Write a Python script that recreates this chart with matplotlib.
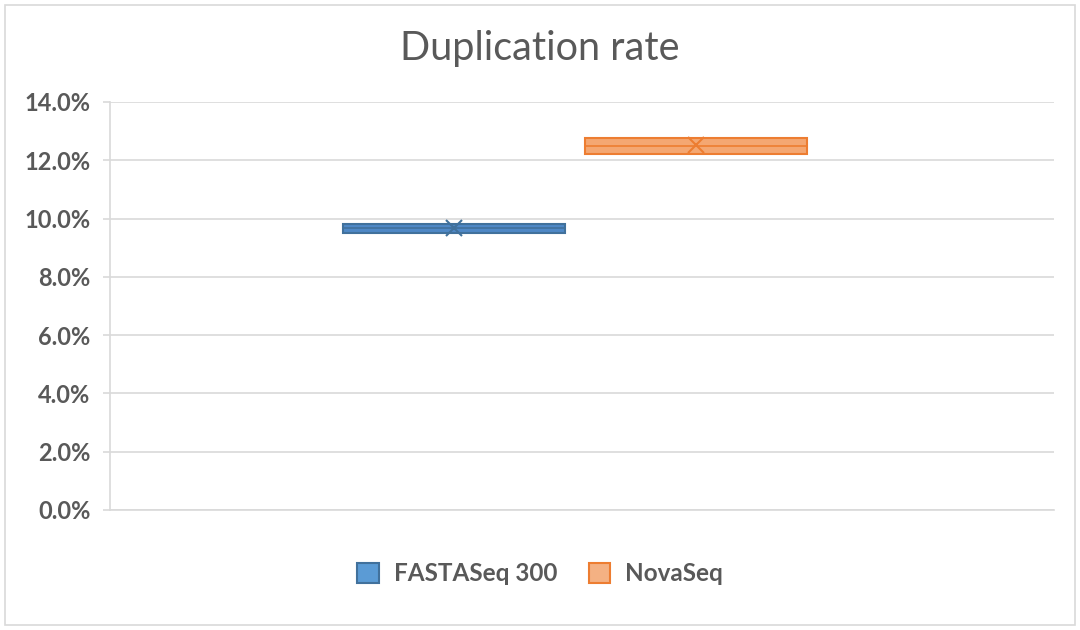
import matplotlib.pyplot as plt
from matplotlib.patches import Rectangle
from matplotlib.ticker import FuncFormatter

# valori (in %)
serie = ['FASTASeq 300', 'NovaSeq']
q1 = [9.51, 12.22]
mediana = [9.66, 12.50]
q3 = [9.81, 12.76]
media = [9.68, 12.52]
tick_y = [0, 2, 4, 6, 8, 10, 12, 14]

riempimento = ['#4f88c6', '#f4a772']
bordo = ['#41719c', '#ed7d31']
legenda_fill = ['#5b9bd5', '#f4b183']

plt.rcParams['font.family'] = ['Lato', 'DejaVu Sans']

fig = plt.figure(figsize=(10.8, 6.3), dpi=100)
fig.patches.append(Rectangle((0.005, 0.008), 0.99, 0.984, transform=fig.transFigure,
                             fill=False, edgecolor='#d9d9d9', linewidth=1.2))
ax = fig.add_axes([0.1019, 0.1905, 0.8741, 0.6476])

stats = []
for i in range(len(serie)):
    stats.append({'label': serie[i], 'q1': q1[i], 'med': mediana[i], 'q3': q3[i],
                  'mean': media[i], 'whislo': q1[i], 'whishi': q3[i], 'fliers': []})

for i, s in enumerate(stats):
    ax.bxp([s], positions=[i + 1], widths=0.917, patch_artist=True, showmeans=True,
           showcaps=False,
           boxprops=dict(facecolor=riempimento[i], edgecolor=bordo[i], linewidth=1.5),
           medianprops=dict(color=bordo[i], linewidth=1.2),
           whiskerprops=dict(color=bordo[i], linewidth=0),
           meanprops=dict(marker='x', markeredgecolor=bordo[i], markersize=11,
                          markeredgewidth=1.5),
           zorder=3)

ax.set_xlim(-0.421, 3.479)
ax.set_ylim(0, 14)
ax.set_yticks(tick_y)
ax.yaxis.set_major_formatter(FuncFormatter(lambda v, p: f'{v:.1f}%'))
ax.set_xticks([])
ax.grid(axis='y', color='#d9d9d9', linewidth=1.2, zorder=0)
ax.set_axisbelow(True)
for lato in ['top', 'right']:
    ax.spines[lato].set_visible(False)
ax.spines['left'].set_color('#d9d9d9')
ax.spines['bottom'].set_color('#d9d9d9')
ax.spines['left'].set_linewidth(1.2)
ax.spines['bottom'].set_linewidth(1.2)
ax.tick_params(axis='y', length=5, color='#d9d9d9', width=1.2, pad=9,
               labelsize=17, labelcolor='#595959')
for t in ax.get_yticklabels():
    t.set_fontweight('bold')

fig.text(0.5, 0.923, 'Duplication rate', ha='center', va='center',
         fontsize=28.5, color='#595959')

maniglie = [Rectangle((0, 0), 1, 1, facecolor=legenda_fill[i], edgecolor=bordo[i], linewidth=1.5)
            for i in range(len(serie))]
leg = fig.legend(maniglie, serie, loc='center', bbox_to_anchor=(0.5, 0.089), ncol=2,
                 frameon=False, handlelength=0.9, handleheight=0.9, columnspacing=1.3,
                 handletextpad=0.6, prop={'size': 17.5, 'weight': 'bold'})
for t in leg.get_texts():
    t.set_color('#595959')

fig.savefig('out.png', dpi=100)
